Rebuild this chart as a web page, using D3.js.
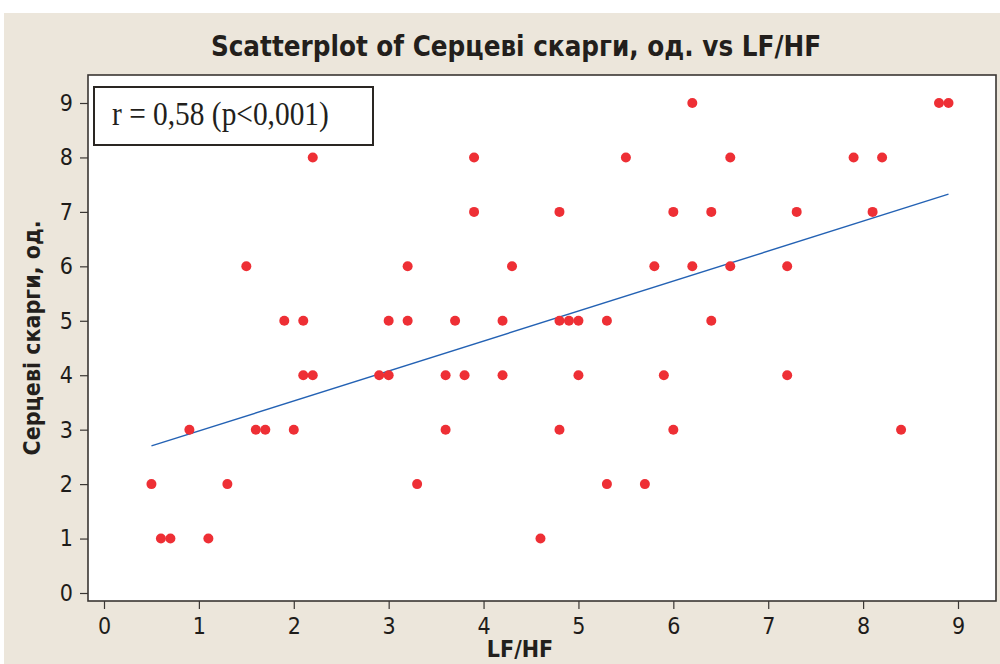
<!DOCTYPE html>
<html>
<head>
<meta charset="utf-8">
<script src="https://cdn.jsdelivr.net/npm/d3@7"></script>
<style>
  html, body { margin: 0; padding: 0; background: #ffffff; }
  svg { display: block; }
</style>
</head>
<body>
<div id="wrapper"></div>
<script>
// LF/HF values grouped by cardiac complaint score (y)
const yLevels = [9, 8, 7, 6, 5, 4, 3, 2, 1]
const lfhfByLevel = [
  [6.2, 8.8, 8.9],
  [2.2, 3.9, 5.5, 6.6, 7.9, 8.2],
  [3.9, 4.8, 6.0, 6.4, 7.3, 8.1],
  [1.5, 3.2, 4.3, 5.8, 6.2, 6.6, 7.2],
  [1.9, 2.1, 3.0, 3.2, 3.7, 4.2, 4.8, 4.9, 5.0, 5.3, 6.4],
  [2.1, 2.2, 2.9, 3.0, 3.6, 3.8, 4.2, 5.0, 5.9, 7.2],
  [0.9, 1.6, 1.7, 2.0, 3.6, 4.8, 6.0, 8.4],
  [0.5, 1.3, 3.3, 5.3, 5.7],
  [0.6, 0.7, 1.1, 4.6],
]
const xTicks = [0, 1, 2, 3, 4, 5, 6, 7, 8, 9]
const yTicks = [0, 1, 2, 3, 4, 5, 6, 7, 8, 9]
const titleText = "Scatterplot of Серцеві скарги, од. vs LF/HF"
const xLabelText = "LF/HF"
const yLabelText = "Серцеві скарги, од."
const statText = "r = 0,58 (p<0,001)"

const dataset = []
yLevels.forEach((y, i) => {
  lfhfByLevel[i].forEach(x => dataset.push({ x: x, y: y }))
})

const xAccessor = d => d.x
const yAccessor = d => d.y

// least squares fit
const meanX = d3.mean(dataset, xAccessor)
const meanY = d3.mean(dataset, yAccessor)
const slope = d3.sum(dataset, d => (d.x - meanX) * (d.y - meanY))
  / d3.sum(dataset, d => (d.x - meanX) ** 2)
const intercept = meanY - slope * meanX

const width = 1000
const height = 664
const frame = { left: 88, right: 996, top: 75, bottom: 601 }

const sansFont = "'DejaVu Sans Condensed', 'DejaVu Sans', sans-serif"

const wrapper = d3.select("#wrapper")
  .append("svg")
    .attr("width", width)
    .attr("height", height)

// background
wrapper.append("rect")
    .attr("x", 4)
    .attr("y", 13)
    .attr("width", width - 4)
    .attr("height", height - 13)
    .attr("fill", "#ece6db")

wrapper.append("rect")
    .attr("x", frame.left)
    .attr("y", frame.top)
    .attr("width", frame.right - frame.left)
    .attr("height", frame.bottom - frame.top)
    .attr("fill", "#ffffff")

const xScale = d3.scaleLinear()
  .domain([0, 9])
  .range([104, 958])

const yScale = d3.scaleLinear()
  .domain([0, 9])
  .range([593, 103])

// regression line
const xExtent = d3.extent(dataset, xAccessor)
wrapper.append("line")
    .attr("x1", xScale(xExtent[0]))
    .attr("y1", yScale(intercept + slope * xExtent[0]))
    .attr("x2", xScale(xExtent[1]))
    .attr("y2", yScale(intercept + slope * xExtent[1]))
    .attr("stroke", "#2462b4")
    .attr("stroke-width", 1.4)

// points
wrapper.append("g")
  .selectAll("circle")
  .data(dataset)
  .enter().append("circle")
    .attr("cx", d => xScale(xAccessor(d)))
    .attr("cy", d => yScale(yAccessor(d)))
    .attr("r", 5)
    .attr("fill", "#ee2f35")

// frame
wrapper.append("rect")
    .attr("x", frame.left)
    .attr("y", frame.top)
    .attr("width", frame.right - frame.left)
    .attr("height", frame.bottom - frame.top)
    .attr("fill", "none")
    .attr("stroke", "#3a3633")
    .attr("stroke-width", 1.6)

// axes
const xAxisGenerator = d3.axisBottom(xScale)
  .tickValues(xTicks)
  .tickSize(8)
  .tickPadding(9)
  .tickSizeOuter(0)

const xAxis = wrapper.append("g")
    .attr("transform", `translate(0, ${frame.bottom})`)
    .call(xAxisGenerator)
xAxis.select(".domain").remove()
xAxis.selectAll(".tick line").attr("stroke", "#3a3633").attr("stroke-width", 1.2)
xAxis.selectAll(".tick text")
    .attr("fill", "#1e1c1a")
    .style("font-family", sansFont)
    .style("font-size", "23px")

const yAxisGenerator = d3.axisLeft(yScale)
  .tickValues(yTicks)
  .tickSize(8)
  .tickPadding(7)
  .tickSizeOuter(0)

const yAxis = wrapper.append("g")
    .attr("transform", `translate(${frame.left}, 0)`)
    .call(yAxisGenerator)
yAxis.select(".domain").remove()
yAxis.selectAll(".tick line").attr("stroke", "#3a3633").attr("stroke-width", 1.2)
yAxis.selectAll(".tick text")
    .attr("fill", "#1e1c1a")
    .style("font-family", sansFont)
    .style("font-size", "23px")

// titles
wrapper.append("text")
    .attr("x", 516)
    .attr("y", 56)
    .attr("text-anchor", "middle")
    .attr("fill", "#231f1c")
    .style("font-family", sansFont)
    .style("font-weight", "bold")
    .style("font-size", "27.5px")
    .text(titleText)

wrapper.append("text")
    .attr("x", 520)
    .attr("y", 657)
    .attr("text-anchor", "middle")
    .attr("fill", "#231f1c")
    .style("font-family", sansFont)
    .style("font-weight", "bold")
    .style("font-size", "23px")
    .text(xLabelText)

wrapper.append("text")
    .attr("transform", "translate(40, 338) rotate(-90)")
    .attr("text-anchor", "middle")
    .attr("fill", "#231f1c")
    .style("font-family", sansFont)
    .style("font-weight", "bold")
    .style("font-size", "23px")
    .text(yLabelText)

// statistics box
wrapper.append("rect")
    .attr("x", 94)
    .attr("y", 87)
    .attr("width", 279)
    .attr("height", 58)
    .attr("fill", "#ffffff")
    .attr("stroke", "#2a2623")
    .attr("stroke-width", 2)

wrapper.append("text")
    .attr("transform", "translate(112, 125) scale(1, 1.15)")
    .attr("fill", "#231f1c")
    .style("font-family", "'Liberation Serif', 'DejaVu Serif', serif")
    .style("font-size", "29.4px")
    .text(statText)
</script>
</body>
</html>
